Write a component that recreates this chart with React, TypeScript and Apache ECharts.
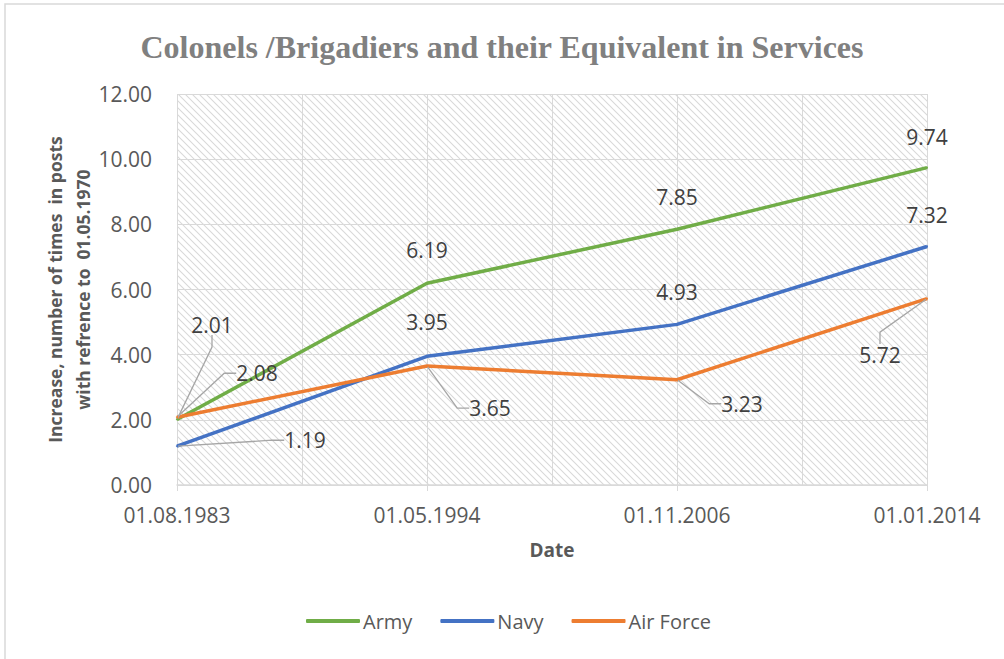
import React, { useEffect, useRef } from "react";
import * as echarts from "echarts";

const categories = ["01.08.1983", "01.05.1994", "01.11.2006", "01.01.2014"];
const army = [2.01, 6.19, 7.85, 9.74];
const navy = [1.19, 3.95, 4.93, 7.32];
const airForce = [2.08, 3.65, 3.23, 5.72];
const seriesNames = ["Army", "Navy", "Air Force"];
const yMin = 0;
const yMax = 12;
const yInterval = 2;

// label placement (layout only)
const armyOffsets = [[35, -95], [0, -33], [0, -32], [0, -31]];
const navyOffsets = [[128, -6], [0, -34], [0, -32], [0, -31]];
const airOffsets = [[80, -44], [63, 42], [65, 24], [-47, 56]];
// leader side: "" none, "bottom", "left", "right"
const armyLeaders = ["bottom", "", "", ""];
const navyLeaders = ["left", "", "", ""];
const airLeaders = ["left", "left", "left", "right"];

const hatchSvg =
  "<svg xmlns='http://www.w3.org/2000/svg' width='7' height='7'><path d='M0,0 L7,7 M-1,6 L1,8 M6,-1 L8,1' stroke='#d9d9d9' stroke-width='1.1'/></svg>";
const hatchUrl = "data:image/svg+xml;charset=utf-8," + encodeURIComponent(hatchSvg);

const FONT = "'Open Sans', 'Noto Sans', sans-serif";

function buildData(values: number[], leaders: string[]) {
  return values.map((v, i) => ({
    value: v,
    labelLine: { show: leaders[i] !== "" },
  }));
}

export default function App() {
  const ref = useRef<HTMLDivElement>(null);
  useEffect(() => {
    if (!ref.current) return;
    const chart = echarts.init(ref.current, null, { renderer: "svg" });
    const colors = ["#70ad47", "#4472c4", "#ed7d31"];
    const allLeaders = [armyLeaders, navyLeaders, airLeaders];
    const allOffsets = [armyOffsets, navyOffsets, airOffsets];
    const layout = (p: any) => {
      const [dx, dy] = allOffsets[p.seriesIndex][p.dataIndex];
      const side = allLeaders[p.seriesIndex][p.dataIndex];
      if (!side) return { dx, dy };
      const r = p.rect;
      const l = p.labelRect;
      const lx = l.x + dx;
      const ly = l.y + dy;
      const px = r.x + r.width / 2;
      const py = r.y + r.height / 2;
      const midY = ly + l.height / 2;
      let pts: number[][];
      if (side === "bottom") {
        pts = [[px, py], [lx + l.width / 2, ly + l.height - 2]];
      } else if (side === "left") {
        const ex = lx - 4;
        pts = [[px, py], [ex - 13, midY], [ex, midY]];
      } else {
        const ex = lx + l.width + 4;
        pts = [[px, py], [ex + 13, midY], [ex, midY]];
      }
      return { dx, dy, labelLinePoints: pts };
    };
    const mk = (name: string, values: number[], leaders: string[], color: string) => ({
      name,
      type: "line",
      data: buildData(values, leaders),
      xAxisIndex: 0,
      yAxisIndex: 0,
      symbol: "circle",
      symbolSize: 2,
      showSymbol: true,
      itemStyle: { color },
      lineStyle: { color, width: 3.5 },
      label: {
        show: true,
        position: "inside",
        color: "#404040",
        fontFamily: FONT,
        fontSize: 21,
        formatter: (p: any) => Number(p.value).toFixed(2),
      },
      labelLine: {
        show: false,
        length2: 12,
        lineStyle: { color: "#a6a6a6", width: 1.3 },
      },
      labelLayout: layout,
      emphasis: { disabled: true },
    });
    chart.setOption({
      animation: false,
      backgroundColor: "#ffffff",
      color: colors,
      title: {
        text: "Colonels /Brigadiers and their Equivalent in Services",
        left: "center",
        top: 26,
        textStyle: {
          fontFamily: "'Liberation Serif', 'Times New Roman', serif",
          fontWeight: "bold",
          fontSize: 32,
          color: "#808080",
        },
      },
      graphic: [
        {
          type: "rect",
          shape: { x: 5, y: 4, width: 1200, height: 1000 },
          style: { fill: "none", stroke: "#d9d9d9", lineWidth: 1.5 },
          silent: true,
        },
      ],
      grid: {
        left: 177,
        right: 77,
        top: 94,
        bottom: 174,
        show: true,
        borderWidth: 0,
        backgroundColor: {
          image: hatchUrl,
          repeat: "repeat",
          imageWidth: 7,
          imageHeight: 7,
        },
      },
      legend: {
        data: seriesNames,
        left: 301,
        top: 606,
        icon: "roundRect",
        itemWidth: 54,
        itemHeight: 4,
        itemGap: 28,
        textStyle: { fontFamily: FONT, fontSize: 20, color: "#595959", padding: [0, 0, 0, -2] },
      },
      xAxis: [
        {
          type: "category",
          data: categories,
          boundaryGap: false,
          name: "Date",
          nameLocation: "middle",
          nameGap: 55,
          nameMoveOverlap: false,
          nameTextStyle: { fontFamily: FONT, fontSize: 19, fontWeight: "bold", color: "#595959" },
          axisLine: { show: true, lineStyle: { color: "#d9d9d9", width: 1.5 } },
          axisTick: { show: true, alignWithLabel: true, length: 6, lineStyle: { color: "#d9d9d9" } },
          axisLabel: { fontFamily: FONT, fontSize: 21, color: "#595959", margin: 19 },
          splitLine: { show: false },
        },
        {
          type: "value",
          min: 0,
          max: categories.length - 1,
          interval: 0.5,
          position: "bottom",
          axisLine: { show: false },
          axisTick: { show: false },
          axisLabel: { show: false },
          splitLine: { show: true, lineStyle: { color: "#d9d9d9", width: 1 } },
        },
      ],
      yAxis: {
        type: "value",
        min: yMin,
        max: yMax,
        interval: yInterval,
        name: "Increase, number of times  in posts\nwith refrence to  01.05.1970",
        nameLocation: "middle",
        nameGap: 80,
        nameMoveOverlap: false,
        nameRotate: 90,
        nameTextStyle: {
          fontFamily: FONT,
          fontSize: 17.5,
          fontWeight: "bold",
          color: "#595959",
          lineHeight: 28,
        },
        axisLine: { show: false },
        axisTick: { show: false },
        axisLabel: {
          fontFamily: FONT,
          fontSize: 21,
          color: "#595959",
          margin: 25,
          formatter: (v: number) => v.toFixed(2),
        },
        splitLine: { show: true, lineStyle: { color: "#d9d9d9", width: 1 } },
      },
      series: [
        mk(seriesNames[0], army, armyLeaders, colors[0]),
        mk(seriesNames[1], navy, navyLeaders, colors[1]),
        mk(seriesNames[2], airForce, airLeaders, colors[2]),
      ],
    });
    return () => chart.dispose();
  }, []);
  return (
    <div
      ref={ref}
      style={{ position: "fixed", left: 0, top: 0, width: 1004, height: 659, background: "#fff" }}
    />
  );
}
